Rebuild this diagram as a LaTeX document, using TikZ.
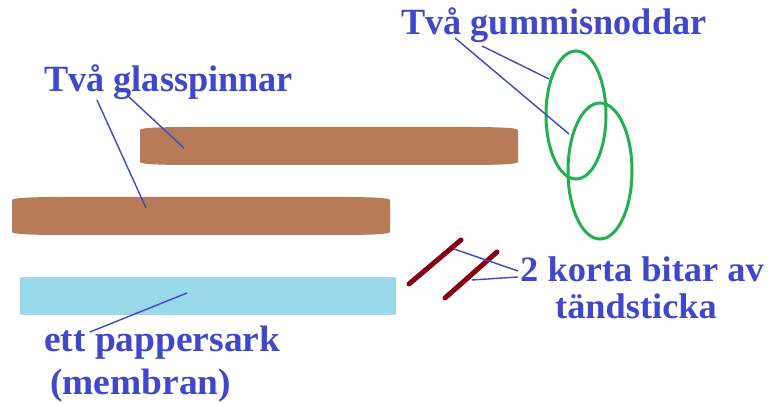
\documentclass[tikz,border=0pt]{standalone}
\usepackage{fontspec}
\setmainfont{Liberation Serif}
\usetikzlibrary{calc}
\definecolor{stickbrown}{HTML}{B77B57}
\definecolor{lblblue}{HTML}{3F48CC}
\definecolor{bandgreen}{HTML}{22B14C}
\definecolor{matchred}{HTML}{880015}
\definecolor{paperblue}{HTML}{99D9EA}
\tikzset{
  lbl/.style={text=lblblue, font=\bfseries, inner sep=0pt, anchor=base west},
  leader/.style={draw=lblblue, line width=1.4pt},
  band/.style={draw=bandgreen, line width=3pt},
  matchstick/.style={draw=matchred, line width=5pt, line cap=round},
  spinne/.pic={
    \fill[stickbrown] (0,3) .. controls (0,0.6) and (25,0) .. (50,0) -- (328,0)
      .. controls (353,0) and (378,0.6) .. (378,3) -- (378,35)
      .. controls (378,37.4) and (353,38) .. (328,38) -- (50,38)
      .. controls (25,38) and (0,37.4) .. (0,35) -- cycle;
  }
}
\begin{document}
\begin{tikzpicture}[x=1pt,y=-1pt]
\path[use as bounding box] (0,0) rectangle (780,403);
% sticks
\pic at (140,127) {spinne};
\pic at (12,197) {spinne};
% paper
\fill[paperblue] (20,277) rectangle (396,315);
% matches
\coordinate (m1a) at (409,284); \coordinate (m1b) at (461,240);
\coordinate (m2a) at (445,298); \coordinate (m2b) at (497,252);
\draw[matchstick] (m1a) -- (m1b);
\draw[matchstick] (m2a) -- (m2b);
% rubber bands
\draw[band] (576,115) ellipse [x radius=30, y radius=64];
\draw[band] (600,171) ellipse [x radius=32, y radius=68];
% labels
\node[lbl] (gummi) at (401,35) {\fontsize{37}{40}\selectfont\scalebox{0.98}[1]{Två gummisnoddar}};
\node[lbl] (glass) at (44,92) {\fontsize{37}{40}\selectfont\scalebox{0.98}[1]{Två glasspinnar}};
\node[lbl, anchor=base] (tand1) at (642,282) {\fontsize{34}{37}\selectfont\scalebox{1.07}[1.05]{2 korta bitar av}};
\node[lbl, anchor=base] (tand2) at (636,319) {\fontsize{34}{37}\selectfont\scalebox{1.07}[1.05]{tändsticka}};
\node[lbl] (papp) at (44,352) {\fontsize{35}{38}\selectfont\scalebox{1.07}[1.05]{ett pappersark}};
\node[lbl] (memb) at (50,395) {\fontsize{35}{38}\selectfont\scalebox{1.07}[1.05]{(membran)}};
% leader end points
\coordinate (g1s) at (97,100);  \coordinate (g1e) at (146,208);
\coordinate (g2s) at (129,97);  \coordinate (g2e) at (184,148);
\coordinate (r1s) at (455,38);  \coordinate (r1e) at (569,134);
\coordinate (r2s) at (482,46);  \coordinate (r2e) at (549,79);
\coordinate (t1s) at (518,271); \coordinate (t1e) at (454,249);
\coordinate (t2s) at (518,277); \coordinate (t2e) at (472,280);
\coordinate (p1s) at (90,332);  \coordinate (p1e) at (187,293);
\draw[leader] (g1s) -- (g1e);
\draw[leader] (g2s) -- (g2e);
\draw[leader] (r1s) -- (r1e);
\draw[leader] (r2s) -- (r2e);
\draw[leader] (t1s) -- (t1e);
\draw[leader] (t2s) -- (t2e);
\draw[leader] (p1s) -- (p1e);
\end{tikzpicture}
\end{document}
